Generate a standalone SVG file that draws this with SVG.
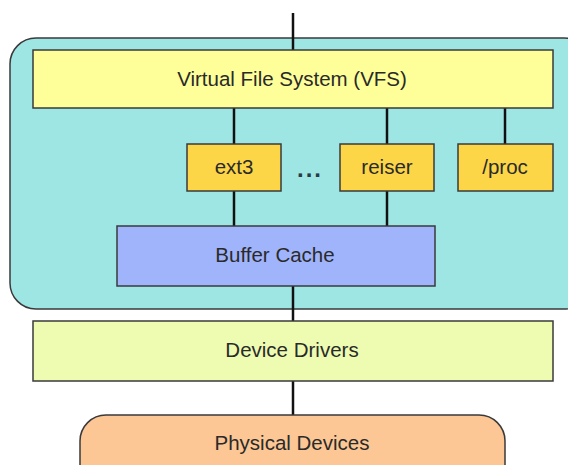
<svg xmlns="http://www.w3.org/2000/svg" width="568" height="465" viewBox="0 0 568 465">
<style>
.box{stroke:#3a3a3a;stroke-width:1.5}
.t{font-family:"Liberation Sans",Arial,sans-serif;font-size:20.5px;fill:#2a2a2a;text-anchor:middle;dominant-baseline:central}
.c{stroke:#111;stroke-width:2.5;fill:none}
</style>
<rect width="568" height="465" fill="#fff"/>
<g id="kernel"><rect class="box" x="10" y="38" width="580" height="271" rx="26" fill="#9ee6e3"/></g>
<g id="connectors">
<line class="c" x1="293" y1="13" x2="293" y2="50"/>
<line class="c" x1="234" y1="108" x2="234" y2="144"/>
<line class="c" x1="387" y1="108" x2="387" y2="144"/>
<line class="c" x1="505" y1="108" x2="505" y2="144"/>
<line class="c" x1="234" y1="191" x2="234" y2="226"/>
<line class="c" x1="387" y1="191" x2="387" y2="226"/>
<line class="c" x1="293" y1="286" x2="293" y2="321"/>
<line class="c" x1="293" y1="381" x2="293" y2="415"/>
</g>
<g id="vfs"><rect class="box" x="33" y="50" width="520" height="58" fill="#ffff99"/><text class="t" x="292" y="78">Virtual File System (VFS)</text></g>
<g id="ext3"><rect class="box" x="187" y="144" width="94" height="47" fill="#fdd647"/><text class="t" x="234" y="166">ext3</text></g>
<g id="dots"><text x="310" y="177" font-family="Liberation Sans, Arial, sans-serif" font-size="24" font-weight="bold" letter-spacing="2" fill="#2a3a44" text-anchor="middle">...</text></g>
<g id="reiser"><rect class="box" x="340" y="144" width="94" height="47" fill="#fdd647"/><text class="t" x="387" y="166">reiser</text></g>
<g id="proc"><rect class="box" x="458" y="144" width="95" height="47" fill="#fdd647"/><text class="t" x="505" y="166">/proc</text></g>
<g id="buffer"><rect class="box" x="117" y="226" width="318" height="60" fill="#a0b4fc"/><text class="t" x="275" y="254">Buffer Cache</text></g>
<g id="drivers"><rect class="box" x="33" y="321" width="520" height="60" fill="#edfcb0"/><text class="t" x="292" y="349">Device Drivers</text></g>
<g id="physical"><rect class="box" x="80" y="415" width="425" height="80" rx="26" fill="#fcc794"/><text class="t" x="292" y="442">Physical Devices</text></g>
</svg>
